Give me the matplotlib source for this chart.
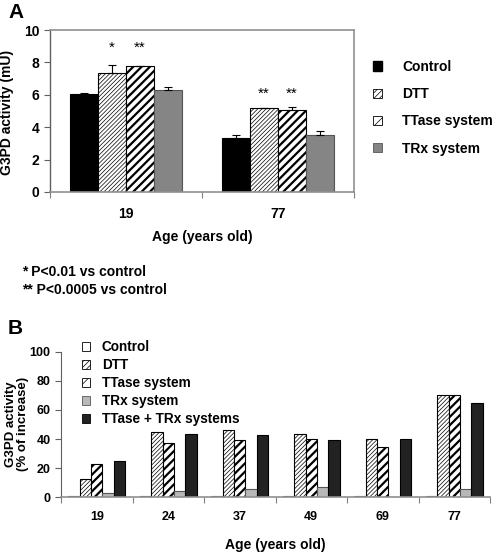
import matplotlib
matplotlib.use("Agg")
import matplotlib.pyplot as plt
import numpy as np
from matplotlib.patches import Patch

plt.rcParams['font.family'] = ['Liberation Sans', 'DejaVu Sans']
plt.rcParams['font.weight'] = 'bold'
plt.rcParams['axes.labelweight'] = 'bold'
plt.rcParams['font.size'] = 10

# ---------------- Data: panel A ----------------
a_ages = ["19", "77"]
a_series = ["Control", "DTT", "TTase system", "TRx system"]
a_control = [6.07, 3.35]
a_dtt = [7.33, 5.17]
a_ttase = [7.77, 5.06]
a_trx = [6.32, 3.52]
a_err_control = [0.04, 0.15]
a_err_dtt = [0.5, 0.02]
a_err_ttase = [0.02, 0.2]
a_err_trx = [0.17, 0.26]
a_stars_dtt = ["*", "**"]
a_stars_ttase = ["**", "**"]

# ---------------- Data: panel B ----------------
b_ages = ["19", "24", "37", "49", "69", "77"]
b_series = ["Control", "DTT", "TTase system", "TRx system", "TTase + TRx systems"]
b_control = [1, 1, 1, 1, 1, 1]
b_dtt = [12.4, 45, 46.5, 43.2, 40, 70]
b_ttase = [22.7, 37, 39.4, 39.8, 34.6, 70]
b_trx = [2.7, 4.3, 5.5, 7.1, 0, 5.5]
b_combo = [25.1, 43.3, 42.6, 39.4, 40, 65]

W, H = 492, 553
fig = plt.figure(figsize=(W / 100, H / 100), dpi=100)


def ax_rect(l, t, r, b):
    return [l / W, 1 - b / H, (r - l) / W, (b - t) / H]


def hbar(ax, x, h, w, hatch, hlw, **kw):
    plt.rcParams['hatch.linewidth'] = hlw
    bars = ax.bar(x, h, w, color='white', edgecolor='black', hatch=hatch,
                  linewidth=0, **kw)
    for b in bars:
        try:
            b.set_hatch_linewidth(hlw)
        except Exception:
            pass
    ax.bar(x, h, w, fill=False, edgecolor='black', linewidth=0.8, **kw)
    return bars


# ================= Panel A =================
axA = fig.add_axes(ax_rect(50, 30, 354, 192))
xa = np.arange(len(a_ages))
bw = 0.184
offs = (np.arange(4) - 1.5) * bw
axA.bar(xa + offs[0], a_control, bw, color='black', edgecolor='black', linewidth=0.8)
hbar(axA, xa + offs[1], a_dtt, bw, '////////', 0.5)
hbar(axA, xa + offs[2], a_ttase, bw, '////', 1.6)
axA.bar(xa + offs[3], a_trx, bw, color='#858585', edgecolor='#555555', linewidth=0.8)

for i, (vals, errs) in enumerate([(a_control, a_err_control), (a_dtt, a_err_dtt),
                                  (a_ttase, a_err_ttase), (a_trx, a_err_trx)]):
    axA.errorbar(xa + offs[i], vals, yerr=[np.zeros(len(vals)), errs], fmt='none',
                 ecolor='black', elinewidth=0.8, capsize=3, capthick=0.8)

for j in range(len(a_ages)):
    ytxt = 8.45 if j == 0 else 5.6
    axA.text(xa[j] + offs[1], ytxt, a_stars_dtt[j], ha='center', va='bottom', fontsize=11, fontweight='normal')
    axA.text(xa[j] + offs[2], ytxt, a_stars_ttase[j], ha='center', va='bottom', fontsize=11, fontweight='normal')

axA.set_xlim(-0.5, len(a_ages) - 0.5)
axA.set_ylim(0, 10)
axA.set_yticks(np.arange(0, 11, 2))
axA.set_xticks(xa)
axA.set_xticklabels(a_ages)
axA.set_xticks(np.arange(-0.5, len(a_ages)), minor=True)
axA.tick_params(axis='x', which='major', length=0, pad=11, labelsize=10)
axA.tick_params(axis='x', which='minor', length=4, width=0.8, color='#808080', direction='out')
axA.tick_params(axis='y', length=4, width=0.8, color='#606060', direction='out', labelsize=10)
for s in ['top', 'right', 'bottom']:
    axA.spines[s].set_color('#909090')
    axA.spines[s].set_linewidth(1.2)
axA.spines['left'].set_color('#606060')
axA.spines['left'].set_linewidth(1.0)
axA.set_ylabel("G3PD activity (mU)", fontsize=10)
axA.yaxis.set_label_coords(14 / W, 1 - 112 / H, transform=fig.transFigure)
axA.set_xlabel("Age (years old)", labelpad=6.5, fontsize=10)

plt.rcParams['hatch.linewidth'] = 0.5
hA = [Patch(facecolor='black', edgecolor='black'),
      Patch(facecolor='white', edgecolor='black', hatch='//////', linewidth=0.6),
      Patch(facecolor='white', edgecolor='black', hatch='///', linewidth=0.6),
      Patch(facecolor='#858585', edgecolor='#555555', linewidth=0.6)]
axA.legend(hA, a_series, loc='upper left', bbox_to_anchor=(373 / W, 1 - 60 / H),
           bbox_transform=fig.transFigure, frameon=False, handlelength=0.65,
           handleheight=0.65, handletextpad=1.45, labelspacing=0.95, fontsize=10,
           borderpad=0, borderaxespad=0)

fig.text(8 / W, 1 - 12 / H, "A", fontsize=15, fontweight='bold', va='center', ha='left')
fig.text(22 / W, 1 - 272 / H, "* P<0.01 vs control", fontsize=10, va='center', ha='left')
fig.text(22 / W, 1 - 290 / H, "** P<0.0005 vs control", fontsize=10, va='center', ha='left')

# ================= Panel B =================
axB = fig.add_axes(ax_rect(61, 351.7, 490, 497.3))
xb = np.arange(len(b_ages))
bw2 = 0.16
offs2 = (np.arange(5) - 2) * bw2
axB.bar(xb + offs2[0], b_control, bw2, color='white', edgecolor='#555555', linewidth=0.8)
hbar(axB, xb + offs2[1], b_dtt, bw2, '////////', 0.5)
hbar(axB, xb + offs2[2], b_ttase, bw2, '////', 1.6)
axB.bar(xb + offs2[3], b_trx, bw2, color='#b8b8b8', edgecolor='#555555', linewidth=0.8)
axB.bar(xb + offs2[4], b_combo, bw2, color='#222222', edgecolor='black', linewidth=0.8)

axB.set_xlim(-0.5, len(b_ages) - 0.5)
axB.set_ylim(0, 100)
axB.set_yticks(np.arange(0, 101, 20))
axB.set_xticks(xb)
axB.set_xticklabels(b_ages)
axB.set_xticks(np.arange(-0.5, len(b_ages)), minor=True)
axB.tick_params(axis='x', which='major', length=0, pad=10, labelsize=9)
axB.tick_params(axis='x', which='minor', length=4, width=0.8, color='#808080', direction='out')
axB.tick_params(axis='y', length=4, width=0.8, color='#606060', direction='out', labelsize=9)
axB.spines['top'].set_visible(False)
axB.spines['right'].set_visible(False)
axB.spines['left'].set_color('#606060')
axB.spines['bottom'].set_color('#909090')
axB.spines['bottom'].set_linewidth(1.2)
axB.set_ylabel("G3PD activity\n(% of increase)", linespacing=1.05, fontsize=9.5)
axB.yaxis.set_label_coords(29 / W, 1 - 424 / H, transform=fig.transFigure)
axB.set_xlabel("Age (years old)", labelpad=11, fontsize=10)

plt.rcParams['hatch.linewidth'] = 0.5
hB = [Patch(facecolor='white', edgecolor='black', linewidth=0.6),
      Patch(facecolor='white', edgecolor='black', hatch='//////', linewidth=0.6),
      Patch(facecolor='white', edgecolor='black', hatch='///', linewidth=0.6),
      Patch(facecolor='#b8b8b8', edgecolor='#555555', linewidth=0.6),
      Patch(facecolor='#222222', edgecolor='black', linewidth=0.6)]
axB.legend(hB, b_series, loc='upper left', bbox_to_anchor=(82 / W, 1 - 340 / H),
           bbox_transform=fig.transFigure, frameon=False, handlelength=0.6,
           handleheight=0.6, handletextpad=0.85, labelspacing=0.3, fontsize=9.8,
           borderpad=0, borderaxespad=0)

fig.text(8 / W, 1 - 328 / H, "B", fontsize=15, fontweight='bold', va='center', ha='left')

fig.savefig("out.png", dpi=100)
